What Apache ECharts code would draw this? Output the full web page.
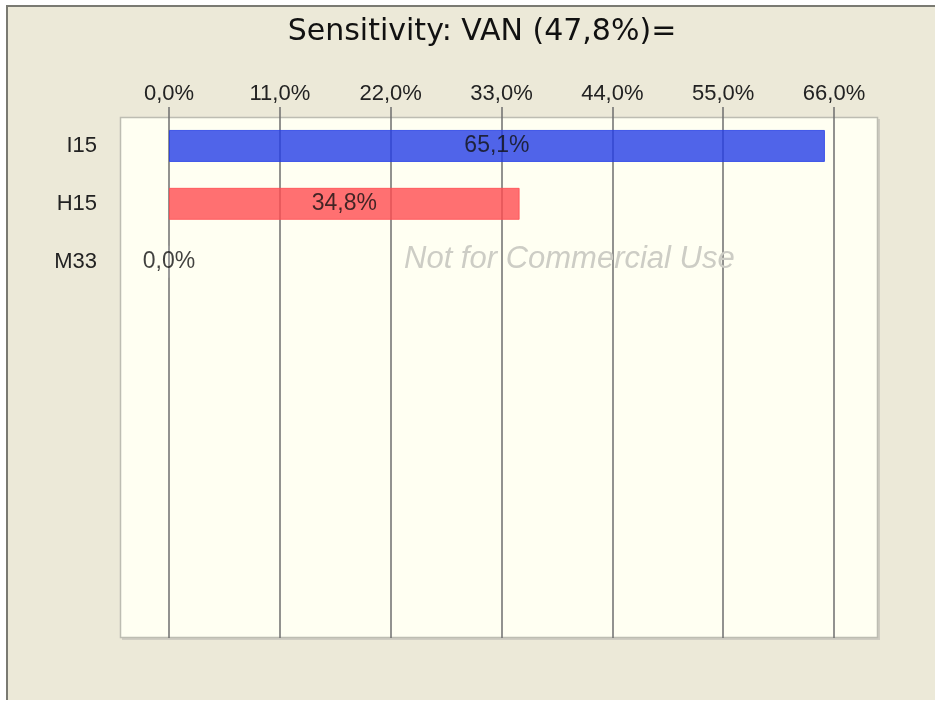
<!DOCTYPE html>
<html>
<head>
<meta charset="utf-8">
<script src="https://cdn.jsdelivr.net/npm/echarts@6/dist/echarts.min.js"></script>
<style>
  html, body { margin: 0; padding: 0; background: #ffffff; }
  #chart { width: 935px; height: 702px; }
</style>
</head>
<body>
<div id="chart"></div>
<script>
// categories (top to bottom), padded with empty rows like the original plot
const categories = ['I15', 'H15', 'M33', '', '', '', '', '', ''];
const values = [65.1, 34.8, 0.0];
const barColors = ['rgb(36,61,230)', 'rgb(255,76,80)', 'rgb(160,160,160)'];
const tickMin = 0;
const tickMax = 66;
const tickStep = 11;

const fmt = (v) => v.toFixed(1).replace('.', ',') + '%';
const FONT = '"Liberation Sans", Arial, sans-serif';

const chart = echarts.init(document.getElementById('chart'));

chart.setOption({
  backgroundColor: '#ffffff',
  animation: false,
  graphic: [
    // outer panel
    {
      type: 'rect',
      z: -20,
      shape: { x: 6, y: 5, width: 940, height: 695 },
      style: { fill: '#ECE9D8', stroke: null }
    },
    { type: 'line', z: -19, shape: { x1: 7, y1: 5, x2: 7, y2: 700 }, style: { stroke: '#7a7a72', lineWidth: 2 } },
    { type: 'line', z: -19, shape: { x1: 6, y1: 6, x2: 935, y2: 6 }, style: { stroke: '#7a7a72', lineWidth: 2 } },
    // plot box
    {
      type: 'rect',
      z: -10,
      shape: { x: 122, y: 119, width: 758, height: 521 },
      style: { fill: '#cfcdc2' }
    },
    {
      type: 'rect',
      z: -9,
      shape: { x: 120.5, y: 117.5, width: 757, height: 520 },
      style: { fill: '#FFFFF2', stroke: '#BDBDB2', lineWidth: 1.5 }
    },
    // watermark
    {
      type: 'text',
      z: 1,
      left: 404,
      top: 244,
      style: {
        text: 'Not for Commercial Use',
        font: 'italic 31px ' + FONT,
        fill: '#cdcdc5'
      }
    }
  ],
  title: {
    text: 'Sensitivity: VAN (47,8%)=',
    left: 477,
    top: 12,
    textAlign: 'center',
    textStyle: {
      fontFamily: '"DejaVu Sans", Verdana, sans-serif',
      fontSize: 30,
      fontWeight: 'normal',
      color: '#111111'
    }
  },
  grid: {
    left: 169,
    right: 101,
    top: 117,
    bottom: 64,
    show: false
  },
  xAxis: {
    type: 'value',
    position: 'top',
    min: tickMin,
    max: tickMax,
    interval: tickStep,
    axisLine: { show: false },
    axisTick: {
      show: true,
      length: 10,
      lineStyle: { color: '#6e6e6e', width: 1.5 }
    },
    axisLabel: {
      margin: 12,
      formatter: (v) => fmt(v),
      fontFamily: FONT,
      fontSize: 22,
      color: '#222222'
    },
    splitLine: {
      show: true,
      lineStyle: { color: '#6e6e6e', width: 1.5 }
    }
  },
  yAxis: {
    type: 'category',
    inverse: true,
    data: categories,
    axisLine: { show: false },
    axisTick: { show: false },
    splitLine: { show: false },
    axisLabel: {
      margin: 72,
      padding: [3, 0, 0, 0],
      fontFamily: FONT,
      fontSize: 22,
      color: '#222222'
    }
  },
  series: [{
    type: 'bar',
    barWidth: 32,
    data: values.map((v, i) => ({
      value: v,
      itemStyle: {
        color: barColors[i],
        opacity: 0.8,
        borderColor: barColors[i],
        borderWidth: 1
      },
      label: i === 2 ? { padding: [6, 0, 0, 0] } : {}
    })),
    label: {
      show: true,
      position: 'inside',
      formatter: (p) => fmt(p.value),
      fontFamily: FONT,
      fontSize: 23,
      color: '#111111'
    }
  }]
});
</script>
</body>
</html>
